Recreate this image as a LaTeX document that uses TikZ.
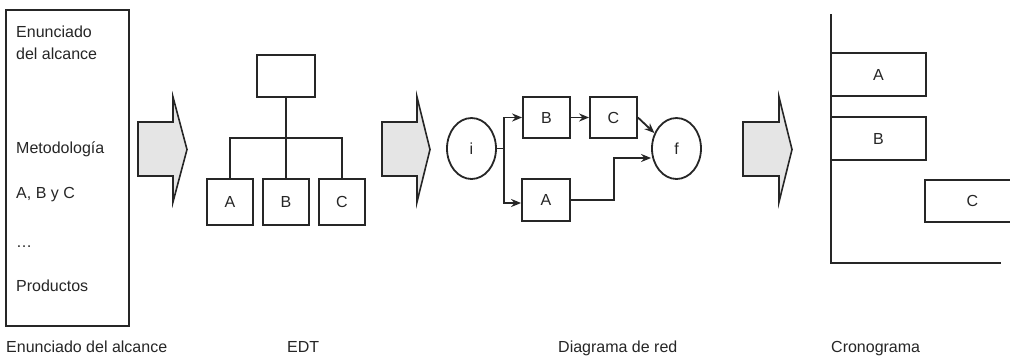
\documentclass[tikz,border=0pt]{standalone}
\usepackage{fontspec}
\setmainfont{Liberation Sans}
\usetikzlibrary{shapes.geometric,arrows.meta}
\begin{document}
\begin{tikzpicture}[x=1pt,y=-1pt,
  every node/.style={font=\fontsize{16}{19}\selectfont, inner sep=0pt, text=black!85},
  ln/.style={line width=1.8pt, draw=black!85},
  bx/.style={ln, rectangle, fill=white},
  ell/.style={ln, ellipse, minimum width=49pt, minimum height=61pt},
  bigarrow/.style={line width=1.6pt, fill=black!10, draw=black!85, line join=miter},
  net/.style={ln, -{Stealth[length=10pt,width=8pt]}},
  txt/.style={anchor=base west}]
\clip (0,0) rectangle (1010,356);
\fill[white] (0,0) rectangle (1010,356);

% --- Enunciado del alcance ---
\node[bx, minimum width=123pt, minimum height=316pt] (scopebox) at (67.5,168) {};
\node[txt] (t1) at (16,37) {Enunciado};
\node[txt] (t2) at (16,59) {del alcance};
\node[txt] (t3) at (16,153) {Metodología};
\node[txt] (t4) at (16,198) {A, B y C};
\node[txt] (t5) at (16,247) {\dots};
\node[txt] (t6) at (16,291) {Productos};

% --- big arrows ---
\draw[bigarrow] (138,122) -- (173,122) -- (173,97) -- (187,149.5) -- (173,202) -- (173,176) -- (138,176) -- cycle;
\draw[bigarrow] (382,122) -- (417,122) -- (417,97) -- (430,149.5) -- (417,202) -- (417,176) -- (382,176) -- cycle;
\draw[bigarrow] (743,122) -- (779,122) -- (779,97) -- (792,149.5) -- (779,202) -- (779,176) -- (743,176) -- cycle;

% --- EDT ---
\node[bx, minimum width=58pt, minimum height=42pt] (top) at (286,76) {};
\node[bx, minimum width=46pt, minimum height=46pt] (ea) at (230,202) {A};
\node[bx, minimum width=46pt, minimum height=46pt] (eb) at (286,202) {B};
\node[bx, minimum width=46pt, minimum height=46pt] (ec) at (342,202) {C};
\coordinate (bar) at (286,138);
\draw[ln] (top.south) -- (eb.north);
\draw[ln] (ea.north) -- (ea.north |- bar) -- (ec.north |- bar) -- (ec.north);

% --- Diagrama de red ---
\node[ell] (ni) at (471.5,148.5) {i};
\node[ell] (nf) at (676.5,148.5) {f};
\node[bx, minimum width=47pt, minimum height=41pt] (nb) at (546.5,117.5) {B};
\node[bx, minimum width=47pt, minimum height=41pt] (nc) at (613.5,117.5) {C};
\node[bx, minimum width=48pt, minimum height=42pt] (na) at (546,200) {A};
\coordinate (split) at (504,148.5);
\coordinate (bend) at (614,158);
\draw[ln] (ni.east) -- (split);
\draw[net] (split) |- (nb.west);
\draw[net] (split) |- ([yshift=-3pt]na.west);
\draw[net] (nb.east) -- (nc.west);
\draw[net] (nc.east) -- (nf.145);
\draw[net] (na.east) -| (bend) -- (nf.west |- bend);

% --- Cronograma ---
\coordinate (ytop) at (831,14);
\coordinate (orig) at (831,263);
\coordinate (xend) at (1001,263);
\draw[ln] (ytop) -- (orig) -- (xend);
\node[bx, minimum width=95pt, minimum height=43pt] (ga) at (878.5,74.5) {A};
\node[bx, minimum width=95pt, minimum height=43pt] (gb) at (878.5,138.5) {B};
\node[bx, minimum width=95pt, minimum height=42pt] (gc) at (972.5,201) {C};

% --- captions ---
\node[txt] (c1) at (6,352) {Enunciado del alcance};
\node[txt] (c2) at (287,352) {EDT};
\node[txt] (c3) at (558,352) {Diagrama de red};
\node[txt] (c4) at (831,352) {Cronograma};
\end{tikzpicture}
\end{document}
